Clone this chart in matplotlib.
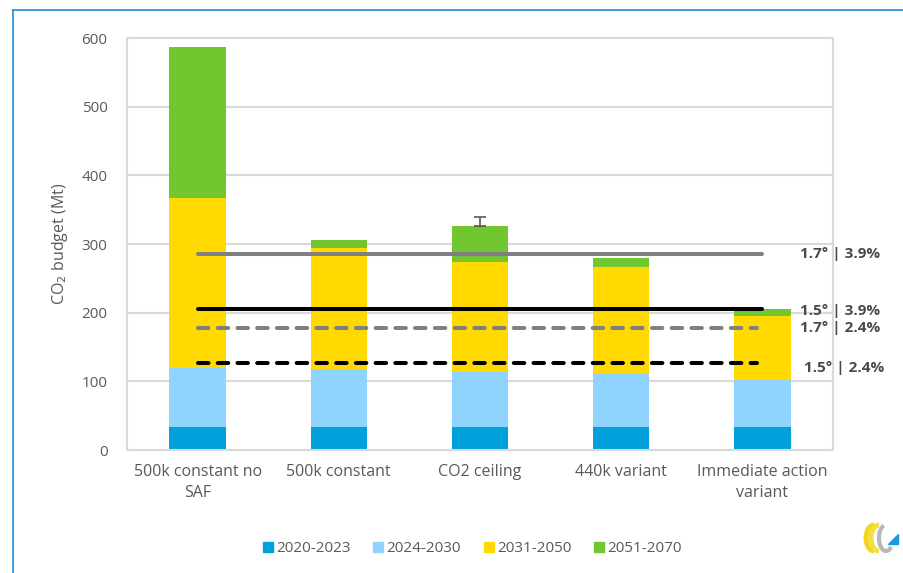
import numpy as np
import matplotlib.pyplot as plt
from matplotlib.lines import Line2D
from matplotlib.patches import Arc, Polygon

plt.rcParams['font.family'] = ['Open Sans', 'DejaVu Sans']

scenarios = ['500k constant no\nSAF', '500k constant', 'CO2 ceiling', '440k variant',
             'Immediate action\nvariant']
periods = ['2020-2023', '2024-2030', '2031-2050', '2051-2070']
colors = ['#00a0da', '#8fd3fe', '#ffd900', '#72c62f']

# budget per period, Mt
p2020_2023 = [34, 34, 34, 34, 34]
p2024_2030 = [86, 84, 80, 78, 68]
p2031_2050 = [247, 176, 160, 155, 93]
p2051_2070 = [220, 12, 52, 12, 10]
series = [p2020_2023, p2024_2030, p2031_2050, p2051_2070]

ceiling_err = 14  # upper error on "CO2 ceiling"

# budget lines (temperature | reduction)
budget_labels = ['1.7° | 3.9%', '1.5° | 3.9%', '1.7° | 2.4%', '1.5° | 2.4%']
budget_values = [286, 205, 177, 126]
budget_colors = ['#808080', '#000000', '#808080', '#000000']
budget_dashed = [False, False, True, True]
label_dy = [0, -3, 0, -6]
label_x = [0.953, 0.953, 0.953, 0.959]

txt = '#595959'

fig = plt.figure(figsize=(9.04, 5.73), dpi=100)
ax = fig.add_axes([127 / 904, 1 - 450 / 573, 706 / 904, 412 / 573])

x = np.arange(len(scenarios))
bottom = np.zeros(len(scenarios))
for vals, c, name in zip(series, colors, periods):
    ax.bar(x, vals, width=0.4, bottom=bottom, color=c, label=name, zorder=2)
    bottom += np.array(vals)

ax.errorbar(x[2], bottom[2], yerr=[[0], [ceiling_err]], fmt='none',
            ecolor=txt, elinewidth=1.2, capsize=4, capthick=1.2, zorder=3)

for val, c, dashed, lab, dy, lx in zip(budget_values, budget_colors, budget_dashed,
                                       budget_labels, label_dy, label_x):
    ln, = ax.plot([x[0], x[-1]], [val, val], color=c, lw=2.9,
                  solid_capstyle='round', dash_capstyle='round', zorder=4)
    if dashed:
        ln.set_dashes((2.6, 2.3))
        ln.set_xdata([x[0], x[-1] - 0.04])
    ax.text(lx, val + dy, lab, transform=ax.get_yaxis_transform(),
            ha='left', va='center', fontsize=11, fontweight='bold', color='#4a4a4a',
            zorder=5)

ax.set_xlim(-0.5, 4.5)
ax.set_ylim(0, 600)
ax.set_yticks(np.arange(0, 601, 100))
ax.set_xticks(x)
ax.set_xticklabels(scenarios, linespacing=1.45)
ax.tick_params(axis='both', length=0, colors=txt, labelsize=11)
ax.tick_params(axis='x', labelsize=11.5, pad=10)
ax.tick_params(axis='y', pad=14)
ax.grid(axis='y', color='#d9d9d9', lw=1.5, zorder=0)
for s in ax.spines.values():
    s.set_color('#d9d9d9')
    s.set_linewidth(1.5)
ax.set_ylabel('CO$_2$ budget (Mt)', color=txt, fontsize=11.5, labelpad=8)

handles = [Line2D([], [], marker='s', ls='none', color=c, markersize=6.5) for c in colors]
fig.legend(handles, periods, loc='center', bbox_to_anchor=(471 / 904, 1 - 549 / 573),
           ncol=4, frameon=False, fontsize=11, labelcolor=txt, handletextpad=0.05,
           handlelength=1.0, columnspacing=1.3)

# outer frame
fig.add_artist(Line2D([13 / 904, 13 / 904], [0, 1 - 9.5 / 573], color='#1a90d0',
                      lw=1.2, transform=fig.transFigure))
fig.add_artist(Line2D([13 / 904, 1], [1 - 9.5 / 573, 1 - 9.5 / 573], color='#1a90d0',
                      lw=1.2, transform=fig.transFigure))

# logo
lg = fig.add_axes([858 / 904, 1 - 556 / 573, 46 / 904, 36 / 573])
lg.set_xlim(0, 46)
lg.set_ylim(0, 36)
lg.axis('off')
lg.add_patch(Arc((16, 18), 16, 26, theta1=90, theta2=270, color='#f2d81c', lw=3.5))
lg.add_patch(Arc((21, 18), 16, 26, theta1=90, theta2=270, color='#f2e040', lw=3.5))
lg.add_patch(Arc((28, 18), 14, 26, theta1=100, theta2=300, color='#b8b8b8', lw=3))
lg.add_patch(Polygon([[30, 12], [40, 12], [40, 22]], color='#1a9be0'))

fig.savefig('out.png', dpi=100)
